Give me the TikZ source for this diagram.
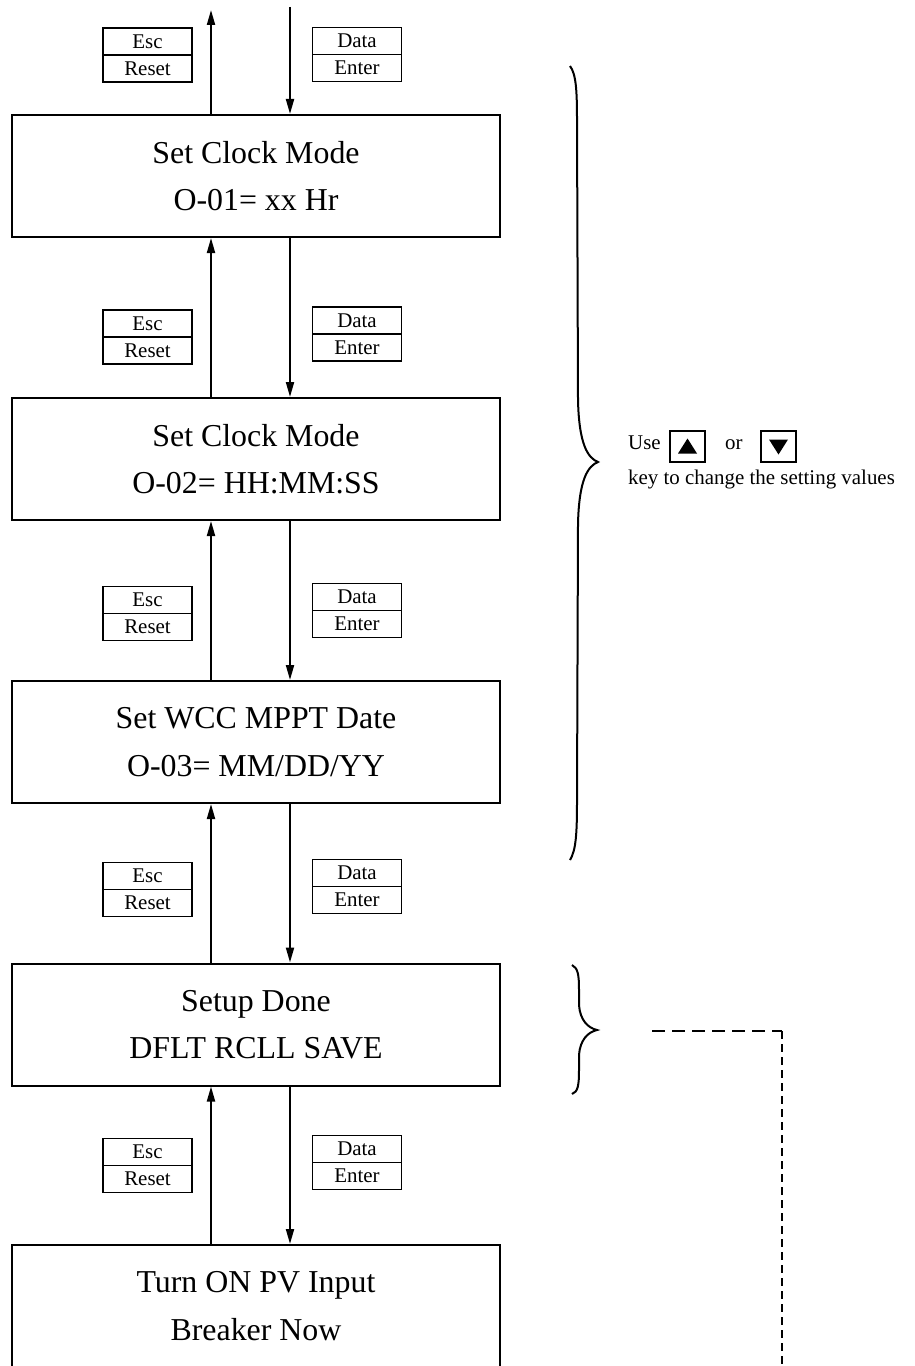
\documentclass[tikz,border=0pt]{standalone}
\usepackage{fontspec}
\setmainfont{Liberation Serif}
\usetikzlibrary{arrows.meta,positioning}

\begin{document}
\begin{tikzpicture}[x=1bp,y=-1bp,
    screen/.style={draw,line width=2bp,minimum width=488bp,minimum height=122bp,
      inner sep=0pt,align=center,text depth=0pt,font=\fontsize{32}{48}\selectfont},
    keycap/.style={draw,line width=1.6bp,minimum width=89bp,minimum height=27bp,
      inner sep=0pt,outer sep=0pt,font=\fontsize{21}{24}\selectfont},
    flow/.style={line width=2bp,-{Triangle[length=15bp,width=8bp]}},
    hint/.style={inner sep=0pt,anchor=base west,font=\fontsize{21}{24}\selectfont},
    arrowkey/.style={draw,line width=1.8bp,minimum width=35bp,minimum height=31bp,inner sep=0pt}]
    \clip (0,0) rectangle (914,1366);

    \node[screen] (clk1) at (256,176) {Set Clock Mode\\O-01= xx Hr};
    \node[screen] (clk2) at (256,459) {Set Clock Mode\\O-02= HH:MM:SS};
    \node[screen] (date) at (256,742) {Set WCC MPPT Date\\O-03= MM/DD/YY};
    \node[screen] (done) at (256,1024.5) {Setup Done\\DFLT RCLL SAVE};
    \node[screen] (pvon) at (256,1306) {Turn ON PV Input\\Breaker Now};

    \node[keycap] (esc1) at (147.5,41.5) {Esc};
    \node[keycap,below=0pt of esc1] (rst1) {Reset};
    \node[keycap] (dat1) at (357,41) {Data};
    \node[keycap,below=0pt of dat1] (ent1) {Enter};
    \node[keycap] (esc2) at (147.5,323.5) {Esc};
    \node[keycap,below=0pt of esc2] (rst2) {Reset};
    \node[keycap] (dat2) at (357,320.5) {Data};
    \node[keycap,below=0pt of dat2] (ent2) {Enter};
    \node[keycap] (esc3) at (147.5,600) {Esc};
    \node[keycap,below=0pt of esc3] (rst3) {Reset};
    \node[keycap] (dat3) at (357,597) {Data};
    \node[keycap,below=0pt of dat3] (ent3) {Enter};
    \node[keycap] (esc4) at (147.5,876) {Esc};
    \node[keycap,below=0pt of esc4] (rst4) {Reset};
    \node[keycap] (dat4) at (357,873) {Data};
    \node[keycap,below=0pt of dat4] (ent4) {Enter};
    \node[keycap] (esc5) at (147.5,1152) {Esc};
    \node[keycap,below=0pt of esc5] (rst5) {Reset};
    \node[keycap] (dat5) at (357,1149) {Data};
    \node[keycap,below=0pt of dat5] (ent5) {Enter};

    \coordinate (upx) at (211,0);
    \coordinate (dnx) at (290,0);
    \coordinate (upend) at (211,10);
    \coordinate (dnstart) at (290,7);

    \draw[flow] (clk1.north -| upx) -- (upend);
    \draw[flow] (dnstart) -- (clk1.north -| dnx);
    \draw[flow] (clk2.north -| upx) -- (clk1.south -| upx);
    \draw[flow] (clk1.south -| dnx) -- (clk2.north -| dnx);
    \draw[flow] (date.north -| upx) -- (clk2.south -| upx);
    \draw[flow] (clk2.south -| dnx) -- (date.north -| dnx);
    \draw[flow] (done.north -| upx) -- (date.south -| upx);
    \draw[flow] (date.south -| dnx) -- (done.north -| dnx);
    \draw[flow] (pvon.north -| upx) -- (done.south -| upx);
    \draw[flow] (done.south -| dnx) -- (pvon.north -| dnx);

    % braces
    \draw[line width=2bp] (570,66) .. controls (576,74) and (577,90) .. (577,120)
      -- (578,400) .. controls (579,445) and (588,458) .. (598,462)
      .. controls (588,466) and (579,479) .. (578,524)
      -- (577,800) .. controls (577,834) and (576,850) .. (570,860);
    \draw[line width=2bp] (572,965) .. controls (578,968) and (579,975) .. (579,990)
      -- (579,1005) .. controls (580,1020) and (588,1028) .. (597,1030)
      .. controls (588,1032) and (580,1040) .. (579,1055)
      -- (579,1070) .. controls (579,1085) and (578,1092) .. (572,1094);

    \node[hint] (use) at (628,449) {Use};
    \node[arrowkey] (upkey) at (687.5,446.5) {};
    \node[hint] (or) at (725,449) {or};
    \node[arrowkey] (dnkey) at (778.5,446.5) {};
    \fill (678,453.5) -- (697,453.5) -- (687.5,438.5) -- cycle;
    \fill (769,439.5) -- (788,439.5) -- (778.5,454.5) -- cycle;
    \node[hint] (keyline) at (628,484.5) {key to change the setting values};

    \coordinate (dstart) at (652,1031);
    \coordinate (dcorner) at (782,1031);
    \coordinate (dend) at (782,1366);
    \draw[line width=1.5bp,dash pattern=on 13bp off 7bp] (dstart) -- (dcorner);
    \draw[line width=1.5bp,dash pattern=on 8bp off 5bp] (dcorner) -- (dend);
\end{tikzpicture}
\end{document}
